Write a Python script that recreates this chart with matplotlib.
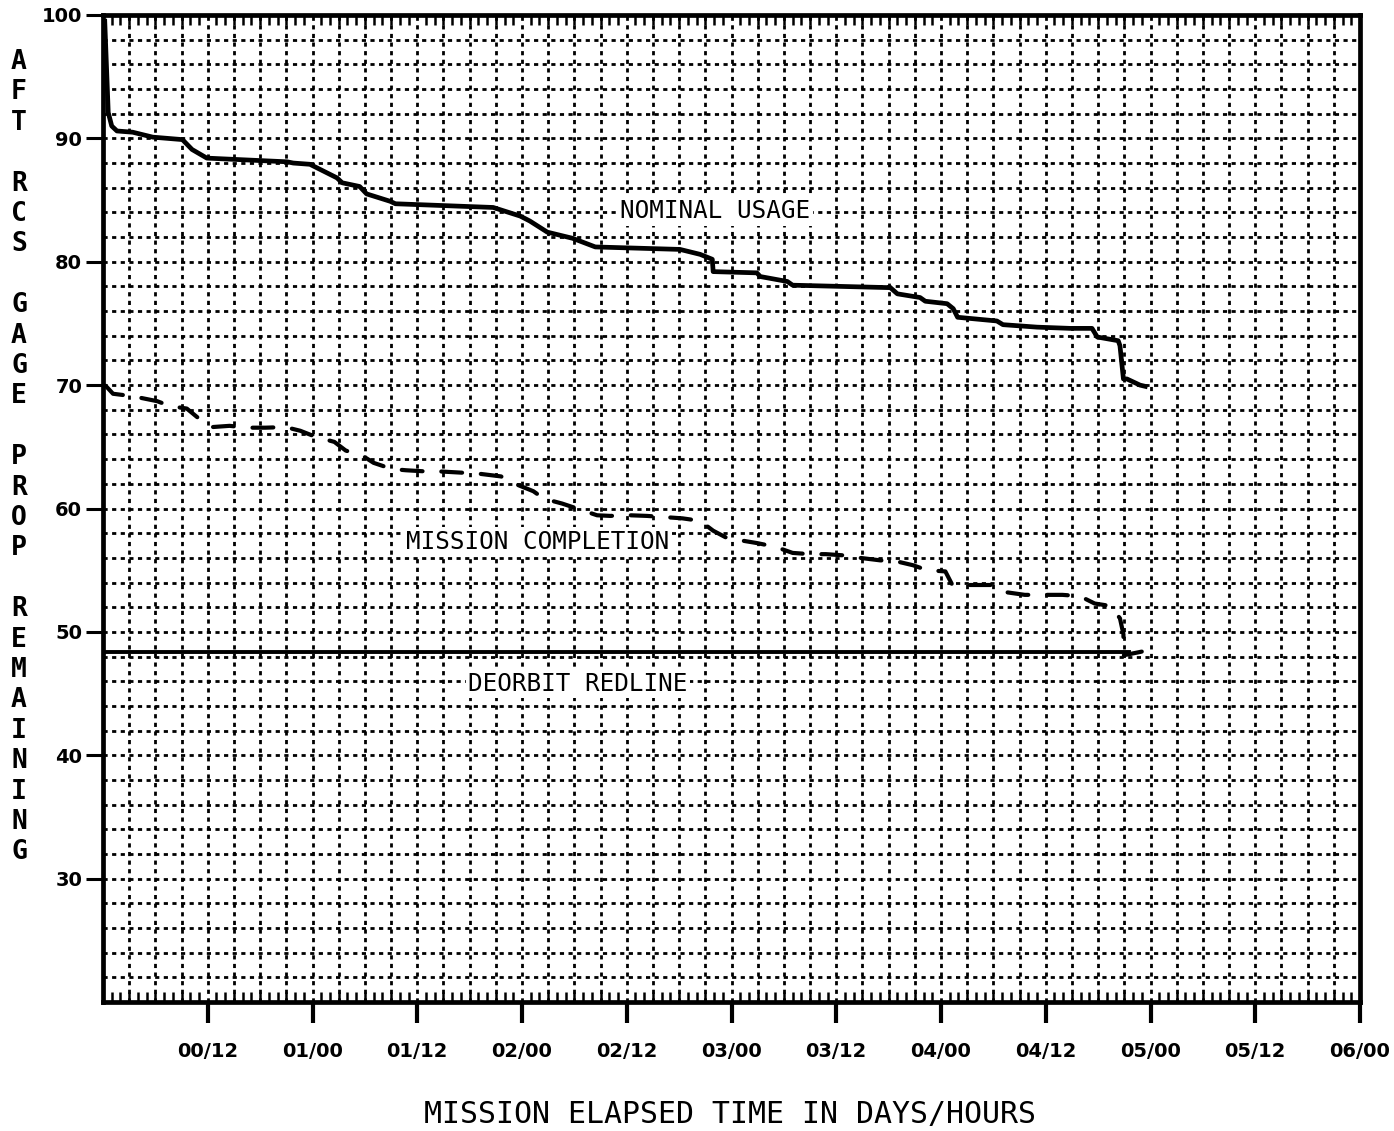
import numpy as np
import matplotlib
matplotlib.use("Agg")
import matplotlib.pyplot as plt
from matplotlib.ticker import MultipleLocator

# mission elapsed time in hours, aft RCS gage prop remaining in percent
nominal_hours = [0.2, 0.6, 1.0, 1.6, 3.4, 5.7, 9.1, 10.2, 11.9, 21.1, 21.8, 23.7, 26.8,
                 27.4, 29.4, 30.2, 32.9, 33.5, 44.7, 47.8, 48.9, 50.9, 53.8, 56.4, 66.1,
                 68.4, 69.8, 69.9, 74.9, 75.3, 78.4, 79.0, 90.2, 91.0, 93.6, 94.2, 96.7,
                 97.4, 97.9, 102.4, 103.1, 107.0, 110.8, 113.3, 113.9, 116.3, 116.5,
                 116.9, 117.3, 118.8, 119.4]
nominal_pct = [99.5, 92.1, 91.0, 90.6, 90.5, 90.1, 89.9, 89.1, 88.4, 88.1, 88.0, 87.9, 86.8,
               86.4, 86.1, 85.5, 84.9, 84.7, 84.4, 83.7, 83.3, 82.4, 81.9, 81.2, 81.0,
               80.6, 80.2, 79.2, 79.1, 78.8, 78.4, 78.1, 77.9, 77.4, 77.1, 76.8, 76.6,
               76.2, 75.5, 75.2, 74.9, 74.7, 74.6, 74.6, 73.9, 73.6, 73.2,
               70.5, 70.5, 70.0, 69.9]

mission_hours = [0.3, 1.15, 3.4, 6.2, 7.7, 9.6, 10.8, 12.5, 14.5, 16.5, 18.6, 20.9, 22.6,
                 24.4, 26.5, 27.8, 29.9, 31.0, 33.1, 34.7, 37.1, 38.7, 41.2, 43.3, 45.6,
                 47.2, 49.3, 50.5, 52.6, 54.3, 56.6, 58.1, 60.4, 62.3, 64.4, 66.4, 68.4,
                 69.9, 71.5, 73.2, 74.9, 77.0, 79.0, 81.0, 82.8, 84.9, 86.7, 89.0, 91.0,
                 92.8, 94.4, 96.5, 97.3, 100.1, 101.8, 103.6, 105.6, 107.9, 109.9, 111.9,
                 113.6, 115.4, 116.5, 116.9, 116.9, 119.0]
mission_pct = [69.95, 69.3, 69.1, 68.7, 68.3, 68.1, 67.4, 66.6, 66.7, 66.55, 66.55, 66.6, 66.3,
               65.8, 65.4, 64.7, 64.2, 63.7, 63.2, 63.1, 63.0, 63.0, 62.9, 62.8, 62.6,
               62.0, 61.4, 60.8, 60.4, 60.0, 59.45, 59.4, 59.45, 59.4, 59.3, 59.2, 59.0,
               58.2, 57.6, 57.4, 57.2, 56.9, 56.4, 56.3, 56.3, 56.2, 56.0, 55.8, 55.7,
               55.4, 55.0, 54.9, 53.8, 53.8, 53.8, 53.2, 53.0, 53.0, 53.0, 52.9,
               52.3, 52.1, 51.1, 49.8, 48.1, 48.4]

redline_hours = [0.0, 117.5]
redline_pct = [48.4, 48.4]

xtick_hours = [12, 24, 36, 48, 60, 72, 84, 96, 108, 120, 132, 144]
xtick_labels = ["00/12", "01/00", "01/12", "02/00", "02/12", "03/00",
                "03/12", "04/00", "04/12", "05/00", "05/12", "06/00"]
ytick_vals = [30, 40, 50, 60, 70, 80, 90, 100]

fig = plt.figure(figsize=(13.94, 11.31), dpi=100)
ax = fig.add_axes([103 / 1394, 1 - 1002 / 1131, 1257 / 1394, 987 / 1131])

ax.set_xlim(0, 144)
ax.set_ylim(20, 100)

# dotted chart-paper grid
for h in np.arange(3, 144, 3):
    ax.axvline(h, color="black", lw=2.0, ls=(0, (1.5, 1.6)), zorder=1)
for v in np.arange(22, 100, 2):
    ax.axhline(v, color="black", lw=2.0, ls=(0, (1.5, 1.6)), zorder=1)

ax.plot(nominal_hours, nominal_pct, color="black", lw=3.4, zorder=3,
        solid_joinstyle="round")
ax.plot(mission_hours, mission_pct, color="black", lw=3.0, dashes=(5, 4.5), zorder=3,
        dash_capstyle="round")
ax.plot(redline_hours, redline_pct, color="black", lw=2.8, zorder=3)

mono = "DejaVu Sans Mono"
box = dict(facecolor="white", edgecolor="none", pad=2)
ax.text(70.1, 84.1, "NOMINAL USAGE", family=mono, fontsize=17.5, ha="center",
        va="center", bbox=box, zorder=4)
ax.text(49.8, 57.3, "MISSION COMPLETION", family=mono, fontsize=17.5, ha="center",
        va="center", bbox=box, zorder=4)
ax.text(54.4, 45.8, "DEORBIT REDLINE", family=mono, fontsize=17.5, ha="center",
        va="center", bbox=box, zorder=4)

for s in ax.spines.values():
    s.set_linewidth(3.4)
    s.set_zorder(5)

ax.set_xticks(xtick_hours)
ax.set_xticklabels(xtick_labels, fontsize=14, fontweight="bold")
ax.xaxis.set_minor_locator(MultipleLocator(1))
ax.tick_params(axis="x", which="major", direction="out", length=15, width=3, pad=14,
               top=False)
ax.tick_params(axis="x", which="minor", direction="in", length=7, width=1.8,
               top=True, bottom=True)

ax.set_yticks(ytick_vals)
ax.set_yticklabels([str(v) for v in ytick_vals], fontsize=14, fontweight="bold")
ax.tick_params(axis="y", which="major", direction="out", length=12, width=2.2, pad=3)

fig.text(730 / 1394, 1 - 1115 / 1131, "MISSION ELAPSED TIME IN DAYS/HOURS",
         family=mono, fontsize=21.5, ha="center", va="center")

ylabel = "AFT RCS GAGE PROP REMAINING"
for i, ch in enumerate(ylabel):
    if ch != " ":
        fig.text(19 / 1394, 1 - (62 + i * 30.4) / 1131, ch, family=mono,
                 fontweight="bold", fontsize=19, ha="center", va="center")

fig.savefig("out.png", dpi=100)
